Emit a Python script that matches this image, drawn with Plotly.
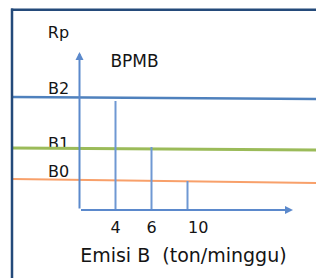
import plotly.graph_objects as go

# ---- data (schematic units) ----
emission_labels = ["4", "6", "10"]          # Emisi B (ton/minggu)
level_names = ["B2", "B1", "B0"]            # BPMB levels
level_start = [11.3, 6.2, 3.1]              # level at left end of line
level_end = [11.1, 6.0, 2.7]                # level at right end of line
drop_heights = [10.9, 6.3, 2.9]             # vertical line heights at 4, 6, 10
level_colors = ["#4f81bd", "#9bbb59", "#f8a06a"]
level_widths = [2.5, 3, 1.8]
label_lift = [0.7, 0.3, 0.6]                # style: label offset above its line

# ---- schematic axis scale (pixel-like) ----
X0, PXU = 79.5, 36.0      # origin pixel, px per step
Y0, PYU = 210.0, 10.0
W, H = 316, 278
xr = [(0 - X0) / PXU, (W - X0) / PXU]
yr = [(Y0 - H) / PYU, Y0 / PYU]
x_left, x_right = xr
x_pos = [i + 1 for i in range(len(emission_labels))]

fig = go.Figure()
FONT = "DejaVu Sans"
TXT = "#141414"

shapes = []
# level lines
for i in range(len(level_names)):
    shapes.append(dict(type="line", xref="x", yref="y", x0=(12 - X0) / PXU, x1=x_right,
                       y0=level_start[i], y1=level_end[i], layer="above",
                       line=dict(color=level_colors[i], width=level_widths[i])))
# vertical drop lines
for i, xp in enumerate(x_pos):
    shapes.append(dict(type="line", xref="x", yref="y", x0=xp, x1=xp, y0=0, y1=drop_heights[i],
                       layer="above", line=dict(color="#6f98d3", width=2)))
# frame
shapes.append(dict(type="line", xref="paper", yref="paper", x0=11 / W, x1=1, y0=1 - 9.7 / H, y1=1 - 9.7 / H,
                   line=dict(color="#244a7a", width=2.5)))
shapes.append(dict(type="line", xref="paper", yref="paper", x0=12 / W, x1=12 / W, y0=0, y1=1 - 8.5 / H,
                   line=dict(color="#244a7a", width=2.5)))

# axis arrows
annotations = [
    dict(x=0, y=(Y0 - 52) / PYU, ax=0, ay=0, xref="x", yref="y", axref="x", ayref="y",
         showarrow=True, arrowhead=2, arrowsize=0.8, arrowwidth=2, arrowcolor="#5b89cc", text=""),
    dict(x=(293 - X0) / PXU, y=0, ax=0, ay=0, xref="x", yref="y", axref="x", ayref="y",
         showarrow=True, arrowhead=2, arrowsize=0.8, arrowwidth=2, arrowcolor="#5b89cc", text=""),
]

# y labels
fig.add_trace(go.Scatter(x=[(58.5 - X0) / PXU] * len(level_names),
                         y=[v + d for v, d in zip(level_start, label_lift)], text=level_names, mode="text",
                         textfont=dict(family=FONT, size=16, color=TXT), hoverinfo="skip"))
# tick labels
fig.add_trace(go.Scatter(x=[x_pos[0], x_pos[1], x_pos[2] + 0.3], y=[-1.9] * 3, text=emission_labels,
                         mode="text", textfont=dict(family=FONT, size=16, color=TXT), hoverinfo="skip"))
# other texts
fig.add_trace(go.Scatter(x=[(58.5 - X0) / PXU, (134.5 - X0) / PXU, (183.4 - X0) / PXU],
                         y=[17.6, 14.7, -4.75], text=["Rp", "BPMB", "Emisi B  (ton/minggu)"],
                         mode="text", textfont=dict(family=FONT, size=[16, 17, 19], color=TXT),
                         hoverinfo="skip"))

fig.update_layout(
    width=W, height=H, margin=dict(l=0, r=0, t=0, b=0),
    paper_bgcolor="white", plot_bgcolor="white", showlegend=False,
    xaxis=dict(range=xr, visible=False, fixedrange=True),
    yaxis=dict(range=yr, visible=False, fixedrange=True),
    shapes=shapes, annotations=annotations,
)
fig.write_html("out.html", config={"displayModeBar": False},
               post_script="document.body.style.margin='0';document.body.style.overflow='hidden';")
